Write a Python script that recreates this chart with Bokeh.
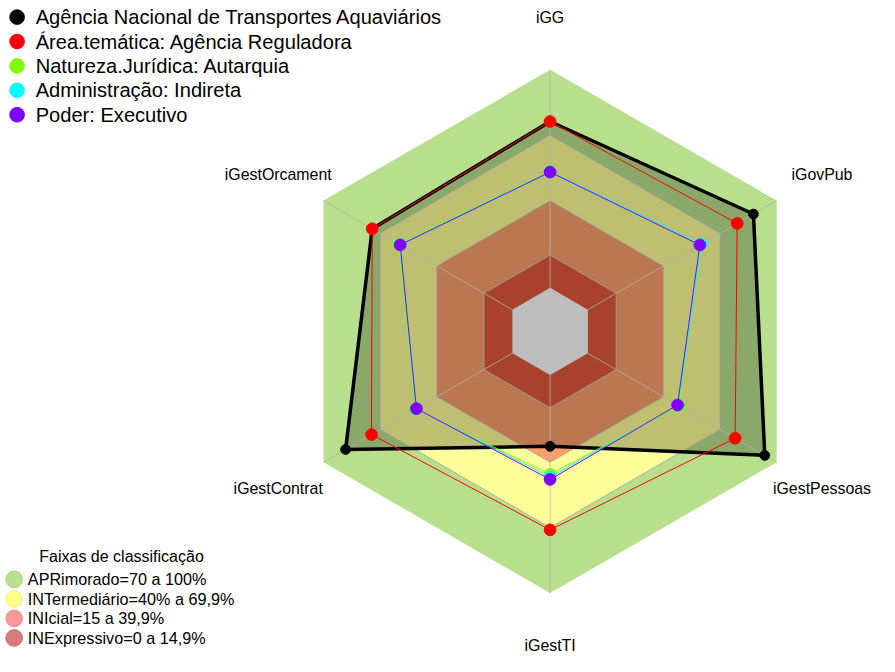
import numpy as np
from bokeh.plotting import figure
from bokeh.models import Range1d
from bokeh.core.properties import value
from bokeh.embed import file_html
from bokeh.resources import INLINE

# ---------------- data ----------------
axes_labels = ["iGG", "iGestOrcament", "iGestContrat", "iGestTI", "iGestPessoas", "iGovPub"]

series_names = [
    "Agência Nacional de Transportes Aquaviários",
    "Área.temática: Agência Reguladora",
    "Natureza.Jurídica: Autarquia",
    "Administração: Indireta",
    "Poder: Executivo",
]
agencia = [76.3, 74.2, 88.3, 32.7, 93.7, 87.7]
area_tematica = [76.3, 74.2, 74.6, 71.0, 78.0, 79.1]
natureza = [53.5, 60.2, 51.3, 45.5, 48.5, 59.0]
administracao = [53.3, 59.6, 51.0, 46.8, 47.8, 60.2]
poder = [53.1, 59.4, 50.8, 47.9, 47.5, 59.3]

band_labels = ["APRimorado=70 a 100%", "INTermediário=40% a 69,9%",
               "INIcial=15 a 39,9%", "INExpressivo=0 a 14,9%"]
band_limits = [100, 70, 40, 15]
legend_title = "Faixas de classificação"

# ---------------- styling ----------------
series_colors = ["#000000", "#FF0000", "#7FFF00", "#00FFFF", "#7F00FF"]
series_widths = [3.5, 1, 1, 1, 1]
series_sizes = [10, 12, 12, 12, 12]
band_fill = ["#B8E08C", "#FFFF99", "#FAA06B", "#E0583B"]
legend_band_fill = ["#B8E08C", "#FFFF8C", "#FF9999", "#D67A7A"]
legend_band_line = ["#A8D07C", "#F0F07C", "#F08A8A", "#C86C6C"]
FONT = "Liberation Sans"

R0 = 1.0 / 6.0  # radius of value 0 (fmsb style, centerzero=FALSE)


def rad(v):
    return R0 + (1 - R0) * np.asarray(v, dtype=float) / 100.0


n = len(axes_labels)
ang = np.deg2rad(90 + 60 * np.arange(n))


def poly(vals):
    r = rad(vals)
    return list(r * np.cos(ang)), list(r * np.sin(ang))


# layout: reference pixel frame 895x672 compressed into the figure
W, H = 879, 656
S = H / 672.0
PX = 268.0
CX, CY = 563.0, 339.0


def sx(x):
    return (x - CX) / PX


def sy(y):
    return (CY - y) / PX


def fs(px):
    return f"{px * S:.1f}px"


p = figure(width=W, height=H, output_backend="svg", toolbar_location=None,
           x_range=Range1d(sx(0), sx(W / S)), y_range=Range1d(sy(H / S), sy(0)),
           min_border=0, background_fill_color="white", border_fill_color="white")
p.axis.visible = False
p.grid.visible = False
p.outline_line_color = None

# bands
for lim, col in zip(band_limits, band_fill):
    xs, ys = poly([lim] * n)
    p.patch(xs, ys, fill_color=col, line_color=None)

# agency fill
xs, ys = poly(agencia)
p.patch(xs, ys, fill_color="black", fill_alpha=0.25, line_color=None)

# centre
xs, ys = poly([0] * n)
p.patch(xs, ys, fill_color="#BEBEBE", line_color=None)

# grid
for lim in [15, 40, 70]:
    xs, ys = poly([lim] * n)
    p.patch(xs, ys, fill_color=None, line_color="#A0A0A0", line_width=1, line_alpha=0.8)
r_in, r_out = rad(0), rad(100)
p.segment(x0=list(r_in * np.cos(ang)), y0=list(r_in * np.sin(ang)),
          x1=list(r_out * np.cos(ang)), y1=list(r_out * np.sin(ang)),
          line_color="#B0B0B0", line_width=1, line_alpha=0.8)

# series
all_series = [agencia, area_tematica, natureza, administracao, poder]
for vals, col, lw, sz in zip(all_series, series_colors, series_widths, series_sizes):
    xs, ys = poly(vals)
    p.patch(xs, ys, fill_color=None, line_color=col, line_width=lw)
    p.scatter(xs, ys, size=sz * S, fill_color=col, line_color=col)

# axis labels
rl = 1.2
p.text(x=list(rl * np.cos(ang)), y=list(rl * np.sin(ang)), text=axes_labels,
       text_align="center", text_baseline="middle",
       text_font=value(FONT), text_font_size=fs(16.3), text_color="black")

# top legend
leg_y = [17, 42, 67, 92, 117]
p.scatter([sx(17)] * len(series_names), [sy(y) for y in leg_y], size=15 * S,
          fill_color=series_colors, line_color=series_colors)
p.text(x=[sx(36)] * len(series_names), y=[sy(y) for y in leg_y], text=series_names,
       text_align="left", text_baseline="middle",
       text_font=value(FONT), text_font_size=fs(20.6), text_color="black")

# bottom legend
p.text(x=[sx(124)], y=[sy(570)], text=[legend_title], text_align="center",
       text_baseline="middle", text_font=value(FONT), text_font_size=fs(16.4),
       text_color="black")
bl_y = [593, 613, 633, 653]
p.scatter([sx(14)] * 4, [sy(y) for y in bl_y], size=17 * S,
          fill_color=legend_band_fill, line_color=legend_band_line)
p.text(x=[sx(28)] * 4, y=[sy(y) for y in bl_y], text=band_labels,
       text_align="left", text_baseline="middle",
       text_font=value(FONT), text_font_size=fs(16.6), text_color="black")

open("out.html", "w").write(file_html(p, INLINE))
